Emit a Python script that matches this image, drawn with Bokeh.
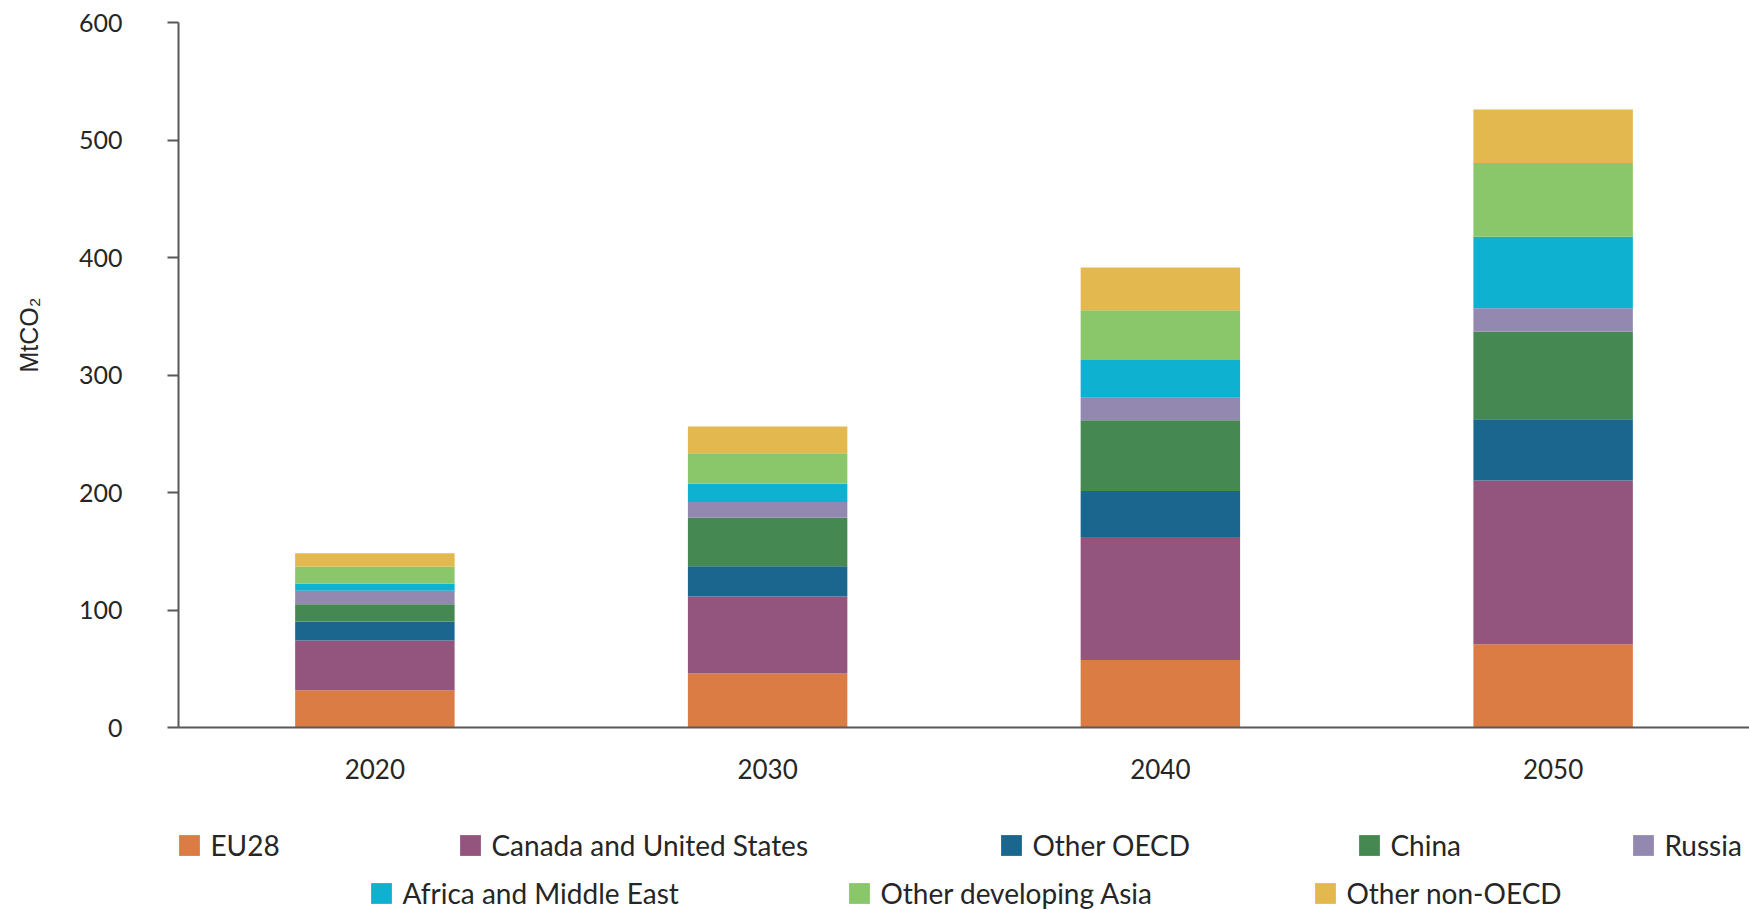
import math
from bokeh.plotting import figure
from bokeh.layouts import column, row
from bokeh.models import Legend, LegendItem, FactorRange, Range1d, ColumnDataSource, FixedTicker, Label
from bokeh.embed import file_html
from bokeh.resources import INLINE

years = ["2020", "2030", "2040", "2050"]
regions = ["EU28", "Canada and United States", "Other OECD", "China", "Russia",
           "Africa and Middle East", "Other developing Asia", "Other non-OECD"]
eu28 = [31.6, 46.0, 57.5, 70.8]
can_us = [42.4, 65.4, 104.6, 139.5]
other_oecd = [16.2, 25.9, 39.2, 52.0]
china = [14.6, 41.2, 60.1, 74.5]
russia = [11.5, 13.4, 19.2, 20.1]
africa_me = [6.3, 15.6, 32.2, 60.7]
dev_asia = [14.5, 25.9, 42.4, 62.8]
non_oecd = [11.3, 22.7, 36.3, 45.5]
y_ticks = [0, 100, 200, 300, 400, 500, 600]

colors = ["#DA7C44", "#93547D", "#1B668E", "#458852", "#9389B0",
          "#0FB1D1", "#8AC76A", "#E3B84E"]

keys = ["eu28", "can_us", "other_oecd", "china", "russia", "africa_me", "dev_asia", "non_oecd"]
source = ColumnDataSource(dict(year=years, eu28=eu28, can_us=can_us, other_oecd=other_oecd,
                               china=china, russia=russia, africa_me=africa_me,
                               dev_asia=dev_asia, non_oecd=non_oecd))

TXT = "#262626"
AX = "#595959"
W = 1749
H_MAIN = 792
H_LEG = 118
LEFT = 178
TW = 60  # width of the strip holding the y-axis title

# strip with the y-axis title
tf = figure(width=TW, height=H_MAIN, x_range=(0, TW), y_range=(0, 600),
            output_backend="svg", toolbar_location=None,
            min_border_left=0, min_border_right=0, min_border_top=22, min_border_bottom=65)
tf.axis.visible = False
tf.xgrid.visible = False
tf.ygrid.visible = False
tf.outline_line_color = None
tf.add_layout(Label(x=28, y=334, text="MtCO₂", angle=math.pi / 2,
                    text_align="center", text_baseline="middle",
                    text_font="Liberation Sans", text_font_size="25px", text_color=TXT))

p = figure(x_range=FactorRange(factors=years, range_padding=0), y_range=(0, 600),
           width=W - TW, height=H_MAIN, output_backend="svg", toolbar_location=None,
           min_border_left=LEFT - TW, min_border_right=0, min_border_top=22, min_border_bottom=65)

renderers = p.vbar_stack(keys, x="year", width=0.406, color=colors, line_color=None, source=source)

p.xgrid.visible = False
p.ygrid.visible = False
p.outline_line_color = None

p.yaxis.ticker = FixedTicker(ticks=y_ticks)
p.yaxis.axis_line_color = AX
p.yaxis.axis_line_width = 2
p.yaxis.major_tick_line_color = AX
p.yaxis.major_tick_line_width = 2
p.yaxis.major_tick_out = 11
p.yaxis.major_tick_in = 0
p.yaxis.minor_tick_line_color = None
p.yaxis.major_label_standoff = 45
p.yaxis.major_label_text_font = "Lato"
p.yaxis.major_label_text_font_size = "25px"
p.yaxis.major_label_text_color = TXT

p.xaxis.axis_line_color = AX
p.xaxis.axis_line_width = 2
p.xaxis.major_tick_line_color = None
p.xaxis.major_tick_out = 0
p.xaxis.major_tick_in = 0
p.xaxis.minor_tick_line_color = None
p.xaxis.major_label_standoff = 31
p.xaxis.major_label_text_font = "Lato"
p.xaxis.major_label_text_font_size = "26px"
p.xaxis.major_label_text_color = TXT

# legend panel: same stacked data, kept outside its view so only the legend shows
lf = figure(width=W, height=H_LEG, x_range=FactorRange(factors=years, range_padding=0),
            y_range=Range1d(1000, 1100),
            output_backend="svg", toolbar_location=None,
            min_border_left=LEFT, min_border_right=0, min_border_top=0, min_border_bottom=0)
lf.axis.visible = False
lf.xgrid.visible = False
lf.ygrid.visible = False
lf.outline_line_color = None
leg_renderers = lf.vbar_stack(keys, x="year", width=0.001, color=colors, line_color=None,
                              source=source)

GL = 26          # legend glyph box (swatch drawn at 80 %)
INSET = GL * 0.1
sq_left = [179, 460, 1001, 1359, 1633, 371, 849, 1315]
leg_y = [48, 48, 48, 48, 48, 0, 0, 0]
for r, name, lx, ly in zip(leg_renderers, regions, sq_left, leg_y):
    lg = Legend(items=[LegendItem(label=name, renderers=[r])],
                location=(lx - INSET - LEFT, ly),
                padding=0, margin=0, border_line_color=None, background_fill_alpha=0,
                glyph_width=GL, glyph_height=GL, label_standoff=8, label_height=GL,
                label_text_font="Lato", label_text_font_size="28px", label_text_color=TXT)
    lf.add_layout(lg)

layout = column(row(tf, p, spacing=0), lf, spacing=0)
open("out.html", "w").write(file_html(layout, INLINE))
